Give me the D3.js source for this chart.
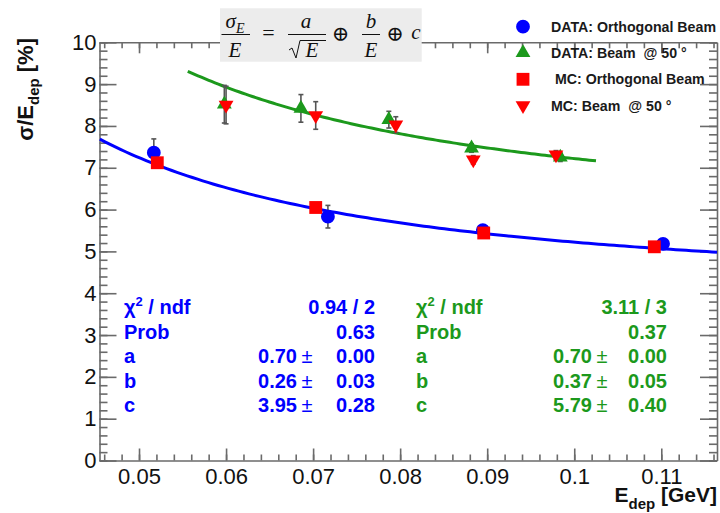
<!DOCTYPE html>
<html>
<head>
<meta charset="utf-8">
<script src="https://cdn.jsdelivr.net/npm/d3@7"></script>
<style>
  html, body { margin: 0; padding: 0; background: #fff; }
  svg { display: block; }
  text { white-space: pre; }
</style>
</head>
<body>
<div id="chart"></div>
<script>
// Measured points (E_dep in GeV, sigma/E in %)
const dataOrthE   = [0.0517, 0.0717, 0.0895, 0.1102];
const dataOrthS   = [7.36, 5.83, 5.51, 5.18];
const dataOrthErr = [0.33, 0.27, 0.08, 0.08];

const mcOrthE   = [0.0521, 0.0703, 0.0896, 0.1092];
const mcOrthS   = [7.12, 6.05, 5.44, 5.11];
const mcOrthErr = [0.05, 0.05, 0.05, 0.05];

const dataAngE   = [0.0598, 0.0686, 0.0787, 0.0882, 0.0984];
const dataAngS   = [8.52, 8.42, 8.15, 7.47, 7.25];
const dataAngErr = [0.45, 0.33, 0.20, 0.10, 0.10];

const mcAngE   = [0.0600, 0.0703, 0.0795, 0.0884, 0.0979];
const mcAngS   = [8.50, 8.25, 8.03, 7.19, 7.31];
const mcAngErr = [0.45, 0.33, 0.19, 0.10, 0.10];

// Fit parameters a, b, c and drawn range of each fit
const fitOrth = [0.70, 0.26, 3.95];
const fitOrthRange = [0.0455, 0.1164];
const fitAng = [0.70, 0.37, 5.79];
const fitAngRange = [0.0556, 0.1025];

// Fit statistics boxes
const statLabels = ['χ² / ndf', 'Prob', 'a', 'b', 'c'];
const statOrthVal = ['0.94 / 2', '0.63', '0.70', '0.26', '3.95'];
const statOrthErr = [null, null, '0.00', '0.03', '0.28'];
const statAngVal = ['3.11 / 3', '0.37', '0.70', '0.37', '5.79'];
const statAngErr = [null, null, '0.00', '0.05', '0.40'];

const xTicks = [0.05, 0.06, 0.07, 0.08, 0.09, 0.1, 0.11];
const xTickLabels = ['0.05', '0.06', '0.07', '0.08', '0.09', '0.1', '0.11'];
const yTicks = [0, 1, 2, 3, 4, 5, 6, 7, 8, 9, 10];

const legendLabels = ['DATA: Orthogonal Beam', 'DATA: Beam  @ 50 °', ' MC: Orthogonal Beam', 'MC: Beam  @ 50 °'];

const BLUE = '#0000ff';
const GREEN = '#1c991c';
const RED = '#ff0000';
const AXIS = '#6a6a6a';
const SANS = '"Liberation Sans", Arial, Helvetica, sans-serif';
const SERIF = '"Liberation Serif", "DejaVu Serif", serif';

const W = 720, H = 513;
const frame = { left: 99.5, right: 717, top: 42.3, bottom: 460.5 };

const x = d3.scaleLinear().domain([0.04546, 0.1164]).range([frame.left, frame.right]);
const y = d3.scaleLinear().domain([0, 10]).range([frame.bottom, frame.top]);

const svg = d3.select('#chart').append('svg')
  .attr('width', W).attr('height', H);

// Axes (ROOT style: ticks inward on all four sides)
function styleAxis(g) {
  g.selectAll('path, line').attr('stroke', AXIS).attr('stroke-width', 1.6);
  g.selectAll('text').attr('font-family', SANS).attr('font-size', 22).attr('fill', '#111');
}
const xMinor = d3.range(0.046, 0.1165, 0.002);
const yMinor = d3.range(0, 10.01, 0.2);

svg.append('g').attr('transform', `translate(0,${frame.bottom})`)
  .call(d3.axisBottom(x).tickValues(xMinor).tickSize(-6).tickFormat('').tickSizeOuter(0))
  .call(styleAxis);
svg.append('g').attr('transform', `translate(0,${frame.bottom})`)
  .call(d3.axisBottom(x).tickValues(xTicks).tickSize(-12).tickPadding(8)
    .tickFormat((d, i) => xTickLabels[i]).tickSizeOuter(0))
  .call(styleAxis)
  .call(g => g.select('.domain').remove());

svg.append('g').attr('transform', `translate(0,${frame.top})`)
  .call(d3.axisTop(x).tickValues(xMinor).tickSize(-6).tickFormat('').tickSizeOuter(0))
  .call(styleAxis);
svg.append('g').attr('transform', `translate(0,${frame.top})`)
  .call(d3.axisTop(x).tickValues(xTicks).tickSize(-11).tickFormat('').tickSizeOuter(0))
  .call(styleAxis)
  .call(g => g.select('.domain').remove());

svg.append('g').attr('transform', `translate(${frame.left},0)`)
  .call(d3.axisLeft(y).tickValues(yMinor).tickSize(-8).tickFormat('').tickSizeOuter(0))
  .call(styleAxis);
svg.append('g').attr('transform', `translate(${frame.left},0)`)
  .call(d3.axisLeft(y).tickValues(yTicks).tickSize(-17).tickPadding(3).tickSizeOuter(0))
  .call(styleAxis)
  .call(g => g.select('.domain').remove());

svg.append('g').attr('transform', `translate(${frame.right},0)`)
  .call(d3.axisRight(y).tickValues(yMinor).tickSize(-8).tickFormat('').tickSizeOuter(0))
  .call(styleAxis);
svg.append('g').attr('transform', `translate(${frame.right},0)`)
  .call(d3.axisRight(y).tickValues(yTicks).tickSize(-17).tickFormat('').tickSizeOuter(0))
  .call(styleAxis)
  .call(g => g.select('.domain').remove());

// Axis titles
const yTitle = svg.append('text')
  .attr('transform', 'translate(33,38) rotate(-90)')
  .attr('text-anchor', 'end')
  .attr('font-family', SANS).attr('font-size', 22).attr('font-weight', 'bold')
  .attr('fill', '#111');
yTitle.append('tspan').text('σ/E');
yTitle.append('tspan').attr('font-size', 15).attr('dy', 6).text('dep');
yTitle.append('tspan').attr('dy', -6).text(' [%]');

const xTitle = svg.append('text')
  .attr('x', frame.right).attr('y', 502)
  .attr('text-anchor', 'end')
  .attr('font-family', SANS).attr('font-size', 21).attr('font-weight', 'bold')
  .attr('fill', '#111');
xTitle.append('tspan').text('E');
xTitle.append('tspan').attr('font-size', 15).attr('dy', 7).text('dep');
xTitle.append('tspan').attr('dy', -7).text(' [GeV]');

// Fit curves: sigma/E = a/sqrt(E) (+) b/E (+) c
function fitValue(p, e) {
  const t1 = p[0] / Math.sqrt(e), t2 = p[1] / e;
  return Math.sqrt(t1 * t1 + t2 * t2 + p[2] * p[2]);
}
const line = d3.line().x(d => x(d[0])).y(d => y(d[1])).curve(d3.curveLinear);
function drawFit(p, range, color) {
  const pts = d3.range(range[0], range[1] + 1e-9, (range[1] - range[0]) / 120).map(e => [e, fitValue(p, e)]);
  svg.append('path').datum(pts)
    .attr('d', line)
    .attr('fill', 'none')
    .attr('stroke', color)
    .attr('stroke-width', 3);
}
drawFit(fitOrth, fitOrthRange, BLUE);
drawFit(fitAng, fitAngRange, GREEN);

// Error bars
function drawErrors(es, ss, errs) {
  const g = svg.append('g').attr('stroke', '#555').attr('stroke-width', 1.6);
  es.forEach((e, i) => {
    const cx = x(e), y1 = y(ss[i] - errs[i]), y2 = y(ss[i] + errs[i]);
    g.append('line').attr('x1', cx).attr('x2', cx).attr('y1', y1).attr('y2', y2);
    g.append('line').attr('x1', cx - 2.5).attr('x2', cx + 2.5).attr('y1', y1).attr('y2', y1);
    g.append('line').attr('x1', cx - 2.5).attr('x2', cx + 2.5).attr('y1', y2).attr('y2', y2);
  });
}
drawErrors(dataOrthE, dataOrthS, dataOrthErr);
drawErrors(mcOrthE, mcOrthS, mcOrthErr);
drawErrors(dataAngE, dataAngS, dataAngErr);
drawErrors(mcAngE, mcAngS, mcAngErr);

// Markers
const markerDefs = [
  { type: d3.symbolCircle, size: 150, color: BLUE, rot: 0 },
  { type: d3.symbolTriangle, size: 95, color: GREEN, rot: 0 },
  { type: d3.symbolSquare, size: 165, color: RED, rot: 0 },
  { type: d3.symbolTriangle, size: 95, color: RED, rot: 180 },
];
function drawMarkers(es, ss, m) {
  const path = d3.symbol().type(m.type).size(m.size)();
  svg.append('g').selectAll('path')
    .data(es.map((e, i) => [e, ss[i]]))
    .join('path')
    .attr('d', path)
    .attr('transform', d => `translate(${x(d[0])},${y(d[1])}) rotate(${m.rot})`)
    .attr('fill', m.color);
}
drawMarkers(dataOrthE, dataOrthS, markerDefs[0]);
drawMarkers(mcOrthE, mcOrthS, markerDefs[2]);
drawMarkers(dataAngE, dataAngS, markerDefs[1]);
drawMarkers(mcAngE, mcAngS, markerDefs[3]);

// Fit statistics
function drawStats(vals, errs, color, xl, xVal, xPm, xErr) {
  const rowY = [314, 338.5, 363, 387.5, 412];
  const g = svg.append('g')
    .attr('font-family', SANS).attr('font-size', 20).attr('font-weight', 'bold')
    .attr('fill', color);
  statLabels.forEach((lab, i) => {
    const t = g.append('text').attr('x', xl).attr('y', rowY[i]);
    if (i === 0) {
      t.append('tspan').text('χ');
      t.append('tspan').attr('font-size', 13).attr('dy', -8).text('2');
      t.append('tspan').attr('dy', 8).text(' / ndf');
    } else {
      t.text(lab);
    }
    if (errs[i] === null) {
      g.append('text').attr('x', xErr).attr('y', rowY[i]).attr('text-anchor', 'end').text(vals[i]);
    } else {
      g.append('text').attr('x', xVal).attr('y', rowY[i]).attr('text-anchor', 'end').text(vals[i]);
      g.append('text').attr('x', xPm).attr('y', rowY[i]).attr('text-anchor', 'middle')
        .attr('font-weight', 'normal').text('±');
      g.append('text').attr('x', xErr).attr('y', rowY[i]).attr('text-anchor', 'end').text(errs[i]);
    }
  });
}
drawStats(statOrthVal, statOrthErr, BLUE, 124, 297, 307, 375);
drawStats(statAngVal, statAngErr, GREEN, 416, 592, 602, 667);

// Legend
const legendRowY = [26.7, 52.7, 79.3, 105.5];
const legendOrder = [0, 1, 2, 3];
const leg = svg.append('g');
legendOrder.forEach((m, i) => {
  const def = markerDefs[m];
  leg.append('path')
    .attr('d', d3.symbol().type(def.type).size(def.size)())
    .attr('transform', `translate(523,${legendRowY[i]}) rotate(${def.rot})`)
    .attr('fill', def.color);
  leg.append('text')
    .attr('x', 551).attr('y', legendRowY[i] + 5)
    .attr('font-family', SANS).attr('font-size', 14.2).attr('font-weight', 'bold')
    .attr('fill', '#1a1a1a')
    .text(legendLabels[i]);
});

// Resolution formula box
const fb = svg.append('g').attr('font-family', SERIF).attr('fill', '#111');
fb.append('rect').attr('x', 220).attr('y', 8.3).attr('width', 201.7).attr('height', 53.4).attr('fill', '#ececec');
function frac(g, cx, x1, x2, num, den, sub) {
  const n = g.append('text').attr('x', cx).attr('y', 28).attr('text-anchor', 'middle')
    .attr('font-size', 21).attr('font-style', 'italic');
  n.append('tspan').text(num);
  if (sub) n.append('tspan').attr('font-size', 14).attr('dy', 5).text(sub);
  g.append('line').attr('x1', x1).attr('x2', x2).attr('y1', 34.5).attr('y2', 34.5)
    .attr('stroke', '#111').attr('stroke-width', 1);
  if (den) {
    g.append('text').attr('x', cx).attr('y', 57).attr('text-anchor', 'middle')
      .attr('font-size', 21).attr('font-style', 'italic').text(den);
  }
}
frac(fb, 235, 221.5, 250, 'σ', 'E', 'E');
fb.append('text').attr('x', 268.5).attr('y', 40).attr('text-anchor', 'middle').attr('font-size', 22).text('=');
frac(fb, 306, 288, 326, 'a', null, null);
// sqrt(E) denominator
fb.append('path').attr('d', 'M289,50 L292,48 L296,58 L300,40.5 L326,40.5')
  .attr('fill', 'none').attr('stroke', '#111').attr('stroke-width', 1);
fb.append('text').attr('x', 312).attr('y', 57).attr('text-anchor', 'middle')
  .attr('font-size', 21).attr('font-style', 'italic').text('E');
fb.append('text').attr('x', 340.5).attr('y', 40.5).attr('text-anchor', 'middle').attr('font-size', 21).text('⊕');
frac(fb, 371, 362, 380, 'b', 'E', null);
fb.append('text').attr('x', 395).attr('y', 40.5).attr('text-anchor', 'middle').attr('font-size', 21).text('⊕');
fb.append('text').attr('x', 416).attr('y', 39).attr('text-anchor', 'middle')
  .attr('font-size', 21).attr('font-style', 'italic').text('c');
</script>
</body>
</html>
